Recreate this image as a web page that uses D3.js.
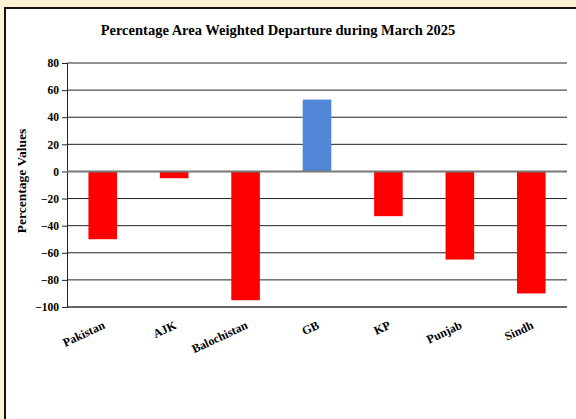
<!DOCTYPE html>
<html>
<head>
<meta charset="utf-8">
<script src="https://cdn.jsdelivr.net/npm/d3@7"></script>
<style>
  html, body { margin: 0; padding: 0; background: #fff3d4; }
  svg { display: block; }
  text { font-family: "Liberation Serif", "Times New Roman", serif; font-weight: bold; fill: #000; }
</style>
</head>
<body>
<script>
// chart data
var regions = ["Pakistan", "AJK", "Balochistan", "GB", "KP", "Punjab", "Sindh"];
var departure = [-50, -5, -95, 53, -33, -65, -90];
var yTicks = [80, 60, 40, 20, 0, -20, -40, -60, -80, -100];

var W = 576, H = 419;
var margin = {top: 63, right: 9, bottom: 112, left: 67},
    width = W - margin.left - margin.right,
    height = H - margin.top - margin.bottom;

var svg = d3.select("body").append("svg")
    .attr("width", W)
    .attr("height", H);

// white panel with black border
svg.append("rect")
    .attr("x", 5).attr("y", 8)
    .attr("width", W + 10).attr("height", H + 10)
    .attr("fill", "#fff")
    .attr("stroke", "#111")
    .attr("stroke-width", 2);

svg.append("text")
    .attr("x", 278).attr("y", 35)
    .attr("text-anchor", "middle")
    .style("font-size", "14.5px")
    .text("Percentage Area Weighted Departure during March 2025");

var g = svg.append("g")
    .attr("transform", "translate(" + margin.left + "," + margin.top + ")");

var x = d3.scaleBand()
    .domain(regions)
    .range([0, width])
    .paddingInner(0.6)
    .paddingOuter(0.3);

var y = d3.scaleLinear()
    .domain([-100, 80])
    .range([height, 0]);

// gridlines
g.selectAll(".grid")
    .data(yTicks.filter(function(d) { return d !== 0; }))
  .enter().append("line")
    .attr("class", "grid")
    .attr("x1", 0).attr("x2", width)
    .attr("y1", function(d) { return y(d); })
    .attr("y2", function(d) { return y(d); })
    .attr("stroke", function(d) { return d === -100 ? "#333" : "#222"; })
    .attr("stroke-width", function(d) { return d === -100 ? 1.5 : 1; });

// y axis
var yAxis = d3.axisLeft(y).tickValues(yTicks).tickSize(5).tickPadding(3);
var ya = g.append("g").call(yAxis);
ya.select(".domain").attr("stroke", "#222");
ya.selectAll(".tick line").attr("stroke", "#222");
ya.selectAll(".tick text")
    .style("font-size", "11.5px")
    .style("font-family", "'Liberation Serif', serif")
    .style("font-weight", "bold");

// bars
g.selectAll(".bar")
    .data(departure)
  .enter().append("rect")
    .attr("class", "bar")
    .attr("x", function(d, i) { return x(regions[i]); })
    .attr("width", x.bandwidth())
    .attr("y", function(d) { return y(Math.max(0, d)); })
    .attr("height", function(d) { return Math.abs(y(d) - y(0)); })
    .attr("fill", function(d) { return d < 0 ? "#ff0000" : "#4f86d8"; });

// zero line
g.append("line")
    .attr("x1", 0).attr("x2", width)
    .attr("y1", y(0)).attr("y2", y(0))
    .attr("stroke", "#777")
    .attr("stroke-width", 2);

// category labels
g.selectAll(".xlab")
    .data(regions)
  .enter().append("text")
    .attr("class", "xlab")
    .attr("text-anchor", "end")
    .style("font-size", "12px")
    .attr("transform", function(d) {
      return "translate(" + (x(d) + x.bandwidth() / 2 + 3) + "," + (height + 21) + ") rotate(-25)";
    })
    .text(function(d) { return d; });

// y title
svg.append("text")
    .attr("transform", "translate(26," + (margin.top + height / 2 - 4) + ") rotate(-90)")
    .attr("text-anchor", "middle")
    .style("font-size", "13.5px")
    .text("Percentage Values");
</script>
</body>
</html>
